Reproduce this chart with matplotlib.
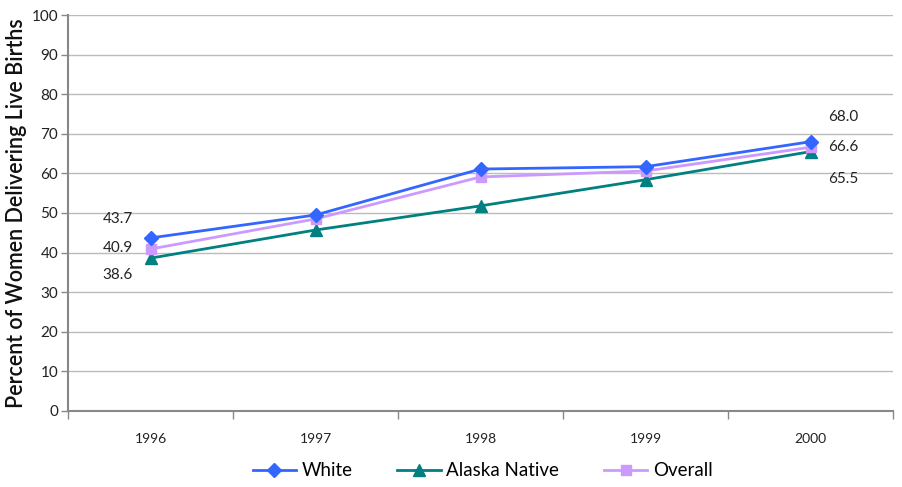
import matplotlib
matplotlib.use("Agg")
import matplotlib.pyplot as plt
import numpy as np

years = ["1996", "1997", "1998", "1999", "2000"]
white = [43.7, 49.5, 61.1, 61.7, 68.0]
alaska_native = [38.6, 45.7, 51.8, 58.4, 65.5]
overall = [40.9, 48.5, 59.1, 60.6, 66.6]
yticks = [0, 10, 20, 30, 40, 50, 60, 70, 80, 90, 100]

plt.rcParams['font.family'] = ['Lato', 'DejaVu Sans']

fig = plt.figure(figsize=(9.02, 4.87), dpi=100)
ax = fig.add_axes([68/902, (487-411)/487, (893-68)/902, (411-15)/487])

x = np.arange(len(years))
ax.plot(x, alaska_native, color="#008080", lw=2, marker="^", ms=9, label="Alaska Native", zorder=3)
ax.plot(x, overall, color="#CC99FF", lw=2, marker="s", ms=7, mfc="#CC99FF", mec="#CC99FF", label="Overall", zorder=4)
ax.plot(x, white, color="#3366FF", lw=2, marker="D", ms=7, label="White", zorder=5)

ax.set_xlim(-0.5, 4.5)
ax.set_ylim(0, 100)
ax.set_yticks(yticks)
ax.set_yticklabels([str(v) for v in yticks], fontsize=11, color="#222222")
ax.set_xticks(x)
ax.set_xticklabels(years, fontsize=10, color="#222222")
ax.set_xticks(np.arange(-0.5, 5.0, 1.0), minor=True)
ax.tick_params(axis="x", which="major", length=0, pad=16)
ax.tick_params(axis="x", which="minor", length=6, color="#888888", width=1)
ax.tick_params(axis="y", length=5, color="#888888", width=1, pad=2)
ax.grid(axis="y", color="#BBBBBB", lw=1)
ax.set_axisbelow(True)
for s in ["top", "right"]:
    ax.spines[s].set_visible(False)
for s in ["left", "bottom"]:
    ax.spines[s].set_color("#888888")
    ax.spines[s].set_linewidth(1.5)

ax.set_ylabel("Percent of Women Delivering Live Births", fontsize=15.5, labelpad=3,
              color="#111111", fontweight="semibold")

# data labels
lab_kw = dict(fontsize=11, color="#222222", ha="center", va="center")
ax.text(x[0] - 0.2, white[0] + 4.8, f"{white[0]:.1f}", **lab_kw)
ax.text(x[0] - 0.2, overall[0] + 0.2, f"{overall[0]:.1f}", **lab_kw)
ax.text(x[0] - 0.2, alaska_native[0] - 4.2, f"{alaska_native[0]:.1f}", **lab_kw)
ax.text(x[4] + 0.2, white[4] + 6.3, f"{white[4]:.1f}", **lab_kw)
ax.text(x[4] + 0.2, overall[4] + 0.1, f"{overall[4]:.1f}", **lab_kw)
ax.text(x[4] + 0.2, alaska_native[4] - 7.0, f"{alaska_native[4]:.1f}", **lab_kw)

handles, labels = ax.get_legend_handles_labels()
order = [2, 0, 1]
leg = fig.legend([handles[i] for i in order], [labels[i] for i in order],
                 loc="center", bbox_to_anchor=(0.535, (487-471)/487), ncol=3,
                 frameon=False, fontsize=13.5, handlelength=2.3, columnspacing=2.4,
                 handletextpad=0.3, borderpad=0)

fig.savefig("out.png", dpi=100)
